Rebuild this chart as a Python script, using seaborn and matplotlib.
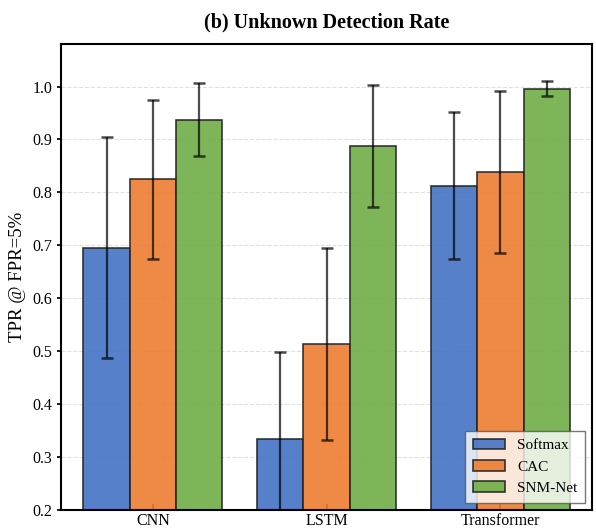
import numpy as np
import pandas as pd
import seaborn as sns
import matplotlib
matplotlib.use("Agg")
import matplotlib.pyplot as plt

models = ["CNN", "LSTM", "Transformer"]
methods = ["Softmax", "CAC", "SNM-Net"]
softmax_mean = [0.696, 0.334, 0.813]
cac_mean = [0.825, 0.514, 0.838]
snm_mean = [0.937, 0.888, 0.996]
softmax_err = [0.208, 0.165, 0.138]
cac_err = [0.150, 0.181, 0.153]
snm_err = [0.069, 0.115, 0.014]
colors = ["#4472C4", "#ED7D31", "#70AD47"]

sns.set_theme(style="white")
plt.rcParams["font.family"] = ["Liberation Serif", "DejaVu Serif"]
plt.rcParams["mathtext.fontset"] = "stix"
for k in ["text.color", "axes.labelcolor", "xtick.color", "ytick.color"]:
    plt.rcParams[k] = "black"

means = [softmax_mean, cac_mean, snm_mean]
errs = [softmax_err, cac_err, snm_err]
rows = []
for mi, meth in enumerate(methods):
    for gi, mod in enumerate(models):
        rows.append({"model": mod, "method": meth, "value": means[mi][gi], "err": errs[mi][gi]})
df = pd.DataFrame(rows)

fig = plt.figure(figsize=(5.96, 5.32), dpi=100)
ax = fig.add_axes([0.102, 0.041, 0.892, 0.876])
ax.set_axisbelow(True)
ax.yaxis.grid(True, linestyle="--", color="#cccccc", alpha=0.6, linewidth=0.8)

sns.barplot(data=df, x="model", y="value", hue="method", order=models,
            hue_order=methods, palette=colors, saturation=1, errorbar=None,
            alpha=0.9, edgecolor="#222222", linewidth=1.2, ax=ax, zorder=2)

bar_containers = list(ax.containers)
for mi, cont in enumerate(bar_containers):
    for gi, patch in enumerate(cont.patches):
        xc = patch.get_x() + patch.get_width() / 2
        ax.errorbar(xc, means[mi][gi], yerr=errs[mi][gi], fmt="none",
                    ecolor="black", elinewidth=1.6, capsize=4.5, capthick=1.8,
                    alpha=0.7, zorder=3)

ax.set_ylim(0.2, 1.08)
ax.set_xlim(-0.53, 2.53)
ticks = np.arange(0.2, 1.01, 0.1)
ax.set_yticks(ticks)
ax.set_yticklabels([f"{v:.1f}" for v in ticks], fontsize=11.5)
ax.tick_params(axis="x", labelsize=11.5, direction="in", length=4, pad=2, bottom=True, colors="black")
ax.tick_params(axis="y", direction="out", length=3, left=True, pad=3, colors="black")
ax.set_xlabel("")
ax.set_ylabel("TPR @ FPR=5%", fontsize=13.5, labelpad=5, color="black")
ax.set_title("(b) Unknown Detection Rate", fontsize=14.5, fontweight="bold", pad=12, color="black")
for s in ax.spines.values():
    s.set_visible(True)
    s.set_color("black")
    s.set_linewidth(1.5)

leg = ax.legend(loc="lower right", fontsize=11, frameon=True, fancybox=False,
                framealpha=0.8, edgecolor="#555555", borderpad=0.5,
                handlelength=2.1, handletextpad=0.8)
for t in leg.get_texts():
    t.set_color("black")

fig.savefig("out.png", dpi=100)
